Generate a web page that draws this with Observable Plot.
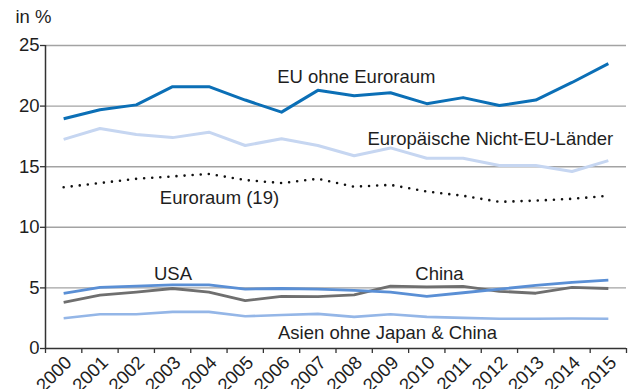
<!DOCTYPE html>
<html>
<head>
<meta charset="utf-8">
<script src="https://cdn.jsdelivr.net/npm/d3@7"></script>
<script src="https://cdn.jsdelivr.net/npm/@observablehq/plot@0.6"></script>
<style>
  html, body { margin: 0; padding: 0; background: #fff; }
  #chart svg { display: block; }
</style>
</head>
<body>
<div id="chart"></div>
<script>
// Anteile an den Ausfuhren nach Partnerregion, in %
const years = [2000, 2001, 2002, 2003, 2004, 2005, 2006, 2007, 2008, 2009, 2010, 2011, 2012, 2013, 2014, 2015];

const euOhneEuroraum = [18.95, 19.7, 20.1, 21.6, 21.6, 20.5, 19.5, 21.3, 20.85, 21.1, 20.2, 20.7, 20.05, 20.5, 21.95, 23.5];
const europaNichtEU  = [17.25, 18.15, 17.65, 17.4, 17.85, 16.75, 17.3, 16.75, 15.9, 16.55, 15.7, 15.7, 15.1, 15.1, 14.6, 15.5];
const euroraum19     = [13.3, 13.65, 14.0, 14.2, 14.4, 13.9, 13.65, 14.0, 13.35, 13.5, 12.95, 12.6, 12.1, 12.2, 12.35, 12.6];
const usa            = [4.55, 5.05, 5.15, 5.25, 5.25, 4.9, 4.95, 4.9, 4.8, 4.65, 4.3, 4.6, 4.9, 5.2, 5.45, 5.65];
const china          = [3.8, 4.4, 4.65, 4.95, 4.65, 3.95, 4.3, 4.28, 4.42, 5.15, 5.08, 5.13, 4.72, 4.56, 5.05, 4.95];
const asienOhneJpCn  = [2.5, 2.83, 2.83, 3.02, 3.02, 2.66, 2.77, 2.86, 2.61, 2.83, 2.61, 2.53, 2.45, 2.45, 2.47, 2.45];

const yTicks = [0, 5, 10, 15, 20, 25];

const seriesNames = ["EU ohne Euroraum", "Europäische Nicht-EU-Länder", "Euroraum (19)", "USA", "China", "Asien ohne Japan & China"];
const seriesValues = [euOhneEuroraum, europaNichtEU, euroraum19, usa, china, asienOhneJpCn];

// label anchors in data units (year, percent)
const labelNames = ["EU ohne Euroraum", "Europäische Nicht-EU-Länder", "Euroraum (19)", "USA", "China", "Asien ohne Japan & China"];
const labelYears = [2008.06, 2011.75, 2004.29, 2003.01, 2010.35, 2008.92];
const labelValues = [22.43, 17.32, 12.45, 6.18, 6.10, 1.31];

const style = {
  "EU ohne Euroraum":            {stroke: "#0b6fb6", width: 3},
  "Europäische Nicht-EU-Länder": {stroke: "#c6d6f1", width: 3},
  "USA":                         {stroke: "#5a8fd5", width: 2.8},
  "China":                       {stroke: "#6f6f6f", width: 2.8},
  "Asien ohne Japan & China":    {stroke: "#94b6e7", width: 2.6}
};

const rows = seriesNames.flatMap((name, s) =>
  years.map((year, i) => ({series: name, year, value: seriesValues[s][i]}))
);
const labels = labelNames.map((text, i) => ({text, year: labelYears[i], value: labelValues[i]}));

// band edges between the years carry the x tick marks
const yearEdges = d3.range(years.length + 1).map(i => years[0] - 0.5 + i);

const solid = ["Asien ohne Japan & China", "China", "USA", "Europäische Nicht-EU-Länder", "EU ohne Euroraum"];
const lineMarks = solid.map(name =>
  Plot.line(rows.filter(d => d.series === name), {
    x: "year", y: "value",
    stroke: style[name].stroke, strokeWidth: style[name].width,
    strokeLinejoin: "round", strokeLinecap: "butt"
  })
);

const font = "'Liberation Sans', Arial, Helvetica, sans-serif";

const chart = Plot.plot({
  width: 632,
  height: 389,
  marginLeft: 45,
  marginRight: 6,
  marginTop: 45,
  marginBottom: 41,
  style: {fontFamily: font, fontSize: "18.5px", background: "#fff", color: "#1e1e1e", overflow: "visible"},
  x: {type: "linear", domain: [yearEdges[0], yearEdges[yearEdges.length - 1]]},
  y: {domain: [0, 25]},
  marks: [
    Plot.ruleY(yTicks.filter(d => d > 0), {stroke: "#a3a3a3", strokeWidth: 1.4}),
    Plot.axisY({ticks: yTicks, tickSize: 5, tickPadding: 1, fontSize: 18.5, label: null, stroke: "#333", strokeWidth: 1.3}),
    Plot.axisX({ticks: yearEdges, tickFormat: () => "", tickSize: 5, label: null, stroke: "#333", strokeWidth: 1.3}),
    Plot.ruleX([yearEdges[0]], {y1: 0, y2: 25, stroke: "#333", strokeWidth: 1.5}),
    ...lineMarks,
    Plot.line(rows.filter(d => d.series === "Euroraum (19)"), {
      x: "year", y: "value", stroke: "#111", strokeWidth: 2.6,
      strokeDasharray: "0,8.1", strokeLinecap: "round"
    }),
    Plot.ruleY([0], {stroke: "#333", strokeWidth: 1.5}),
    Plot.text(years, {
      x: d => d, frameAnchor: "bottom", text: d => String(d),
      rotate: -45, textAnchor: "end", lineAnchor: "middle",
      dx: 5, dy: 11, fontSize: 18.5, fill: "#1e1e1e"
    }),
    Plot.text(labels, {
      x: "year", y: "value", text: "text",
      textAnchor: "middle", lineAnchor: "middle", fontSize: 18.5, fill: "#1e1e1e"
    }),
    Plot.text(["in %"], {
      frameAnchor: "top-left", text: d => d, textAnchor: "start", lineAnchor: "middle",
      dx: -30, dy: -28, fontSize: 18.5, fill: "#1e1e1e"
    })
  ]
});

document.getElementById("chart").appendChild(chart);
</script>
</body>
</html>
